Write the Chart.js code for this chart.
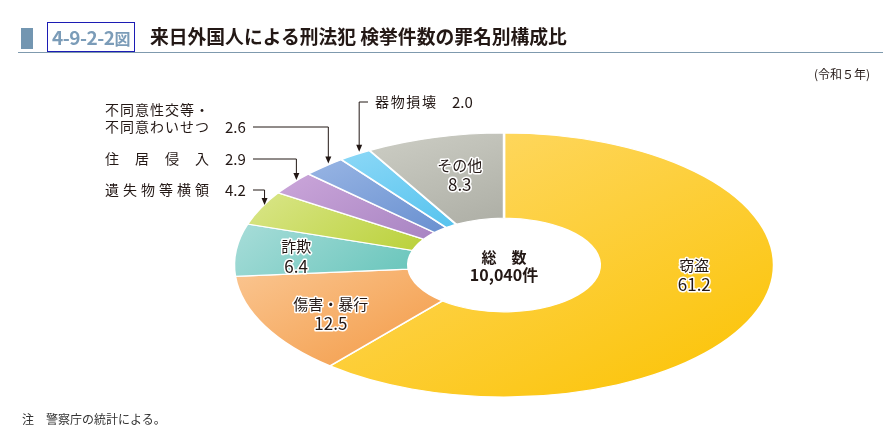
<!DOCTYPE html>
<html lang="ja">
<head>
<meta charset="utf-8">
<title>4-9-2-2図</title>
<script src="https://cdn.jsdelivr.net/npm/chart.js@4.4.1/dist/chart.umd.min.js"></script>
<style>
  body{margin:0;background:#fff;font-family:"Noto Sans CJK JP","Noto Sans",sans-serif;color:#231815;}
  #wrap{position:relative;width:883px;height:439px;overflow:hidden;}
  #chart{position:absolute;left:0;top:0;}
  .bar{position:absolute;left:21px;top:28px;width:12px;height:21px;background:#7396B1;}
  .num{position:absolute;left:47px;top:22px;width:86px;height:28px;border:1px solid #1c1cb4;color:#7B9CB8;font-weight:bold;font-size:19px;line-height:28px;text-align:center;letter-spacing:-0.5px;}
  .num small{font-size:16px;}
  .ttl{position:absolute;left:150px;top:22px;font-size:18.8px;font-weight:bold;line-height:28px;white-space:nowrap;}
  .rule{position:absolute;left:18px;right:0;top:52px;height:1px;background:#7F9AAE;}
  .unit{position:absolute;right:13px;top:65px;font-size:12px;}
  .note{position:absolute;left:22px;top:410px;font-size:12px;color:#333;}
</style>
</head>
<body>
<div id="wrap">
  <canvas id="chart" width="883" height="439"></canvas>
  <div class="bar"></div>
  <div class="num">4-9-2-2<small>図</small></div>
  <div class="ttl">来日外国人による刑法犯 検挙件数の罪名別構成比</div>
  <div class="rule"></div>
  <div class="unit">(令和５年)</div>
  <div class="note">注　警察庁の統計による。</div>
</div>
<script>
// data (%), clockwise from the top
const categories = ['窃盗', '傷害・暴行', '詐欺', '遺失物等横領', '住居侵入', '不同意性交等・\n不同意わいせつ', '器物損壊', 'その他'];
const shares = [61.2, 12.5, 6.4, 4.2, 2.9, 2.6, 2.0, 8.3];
const totalLabel = ['総　数', '10,040件'];

// styles
const fills = [
  ['#FFDD7A', '#FBC200'],
  ['#FAC590', '#F39A45'],
  ['#A8DDD9', '#68C5BB'],
  ['#DAE68A', '#BAD13A'],
  ['#CBA6DA', '#A884C2'],
  ['#98B5E4', '#6990D0'],
  ['#8CD8F7', '#56C3EE'],
  ['#CDCEC5', '#ADAEA5']
];
const RY = 132, SX = 270 / 132;          // ellipse: radius 132 tall, 270 wide
const CUT = 0.355;
const inside = { 0: [7, -23], 1: [0, 5], 2: [-14, 2], 7: [6, 2] };   // label nudges
const outside = {
  3: { ys: [190], x0: 105, x1: 209, vx: 225, from: 253 },
  4: { ys: [159], x0: 105, x1: 209, vx: 225, from: 253 },
  5: { ys: [110, 127], x0: 105, x1: 209, vx: 225, from: 253 },
  6: { ys: [102], x0: 375, x1: 436, vx: 452, from: 368 }
};
const FONT = '"Noto Sans CJK JP", "Noto Sans", sans-serif';

// gradient over each slice's own box (the big slice uses the whole ring)
function sliceFill(c) {
  const chart = c.chart, a = chart.chartArea, i = c.dataIndex, f = fills[i];
  if (!a) return f[1];
  const cx = (a.left + a.right) / 2, cy = (a.top + a.bottom) / 2;
  const sum = shares.reduce((s, v) => s + v, 0);
  const before = shares.slice(0, i).reduce((s, v) => s + v, 0);
  const start = -Math.PI / 2 + before / sum * 2 * Math.PI;
  const end = start + shares[i] / sum * 2 * Math.PI;
  let x0 = cx - RY, y0 = cy - RY, x1 = cx + RY, y1 = cy + RY;
  if (end - start < Math.PI) {
    const xs = [], ys = [];
    for (let k = 0; k <= 8; k++) {
      const t = start + (end - start) * k / 8;
      [RY * CUT, RY].forEach(r => {
        xs.push(cx + Math.cos(t) * r);
        ys.push(cy + Math.sin(t) * r);
      });
    }
    x0 = Math.min(...xs); x1 = Math.max(...xs);
    y0 = Math.min(...ys); y1 = Math.max(...ys);
  }
  const g = chart.ctx.createLinearGradient(x0, y0, x1, y1);
  g.addColorStop(0, f[0]);
  g.addColorStop(1, f[1]);
  return g;
}

// stretch the round doughnut sideways into an ellipse
const squash = {
  id: 'squash',
  beforeDatasetsDraw(chart) {
    const arc = chart.getDatasetMeta(0).data[0];
    const ctx = chart.ctx;
    ctx.save();
    ctx.translate(arc.x, 0);
    ctx.scale(SX, 1);
    ctx.translate(-arc.x, 0);
  },
  afterDatasetsDraw(chart) { chart.ctx.restore(); }
};

function spread(ctx, str, x0, x1, y) {
  const chars = [...str];
  const ws = chars.map(ch => ctx.measureText(ch).width);
  const sum = ws.reduce((s, w) => s + w, 0);
  const gap = chars.length > 1 ? (x1 - x0 - sum) / (chars.length - 1) : 0;
  let x = x0;
  chars.forEach((ch, k) => { ctx.fillText(ch, x, y); x += ws[k] + gap; });
}

function outlined(ctx, str, x, y) {
  ctx.strokeText(str, x, y);
  ctx.fillText(str, x, y);
}

const labels = {
  id: 'labels',
  afterDraw(chart) {
    const ctx = chart.ctx;
    const arcs = chart.getDatasetMeta(0).data;
    const cx = arcs[0].x, cy = arcs[0].y;
    ctx.save();
    ctx.textBaseline = 'middle';
    ctx.fillStyle = '#231815';
    ctx.lineJoin = 'round';

    arcs.forEach((arc, i) => {
      const mid = (arc.startAngle + arc.endAngle) / 2;
      const cos = Math.cos(mid), sin = Math.sin(mid);
      if (inside[i]) {
        const r = arc.innerRadius + (arc.outerRadius - arc.innerRadius) * 0.57;
        const x = cx + cos * r * SX + inside[i][0];
        const y = cy + sin * r + inside[i][1];
        ctx.textAlign = 'center';
        ctx.strokeStyle = '#fff';
        ctx.lineWidth = 3;
        ctx.font = '15px ' + FONT;
        outlined(ctx, categories[i], x, y - 9.5);
        ctx.font = '17px ' + FONT;
        outlined(ctx, shares[i].toFixed(1), x, y + 10);
      } else if (outside[i]) {
        const o = outside[i];
        const tipX = cx + cos * arc.outerRadius * SX + 4;
        const tipY = cy + sin * arc.outerRadius - 3;
        const lines = categories[i].split('\n');
        const ly = o.ys[o.ys.length - 1];
        ctx.textAlign = 'left';
        ctx.font = '14px ' + FONT;
        lines.forEach((ln, k) => spread(ctx, ln, o.x0, o.x1, o.ys[k]));
        ctx.font = '15px ' + FONT;
        ctx.fillText(shares[i].toFixed(1), o.vx, ly);
        ctx.strokeStyle = '#231815';
        ctx.lineWidth = 1;
        ctx.beginPath();
        ctx.moveTo(o.from, ly);
        ctx.lineTo(tipX, ly);
        ctx.lineTo(tipX, tipY - 6);
        ctx.stroke();
        ctx.beginPath();
        ctx.moveTo(tipX - 3, tipY - 7);
        ctx.lineTo(tipX + 3, tipY - 7);
        ctx.lineTo(tipX, tipY);
        ctx.closePath();
        ctx.fill();
      }
    });

    ctx.textAlign = 'center';
    ctx.font = 'bold 15px ' + FONT;
    ctx.fillText(totalLabel[0], cx, cy - 8);
    ctx.font = 'bold 16px ' + FONT;
    ctx.fillText(totalLabel[1], cx, cy + 10);
    ctx.restore();
  }
};

new Chart(document.getElementById('chart'), {
  type: 'doughnut',
  data: {
    labels: categories,
    datasets: [{
      data: shares,
      backgroundColor: sliceFill,
      borderColor: '#fff',
      borderWidth: 1.2,
      hoverOffset: 0
    }]
  },
  options: {
    responsive: false,
    animation: false,
    events: [],
    radius: RY,
    cutout: (CUT * 100) + '%',
    layout: { padding: { top: 133, bottom: 42, left: 304, right: 179 } },
    plugins: { legend: { display: false }, tooltip: { enabled: false } }
  },
  plugins: [squash, labels]
});
</script>
</body>
</html>
